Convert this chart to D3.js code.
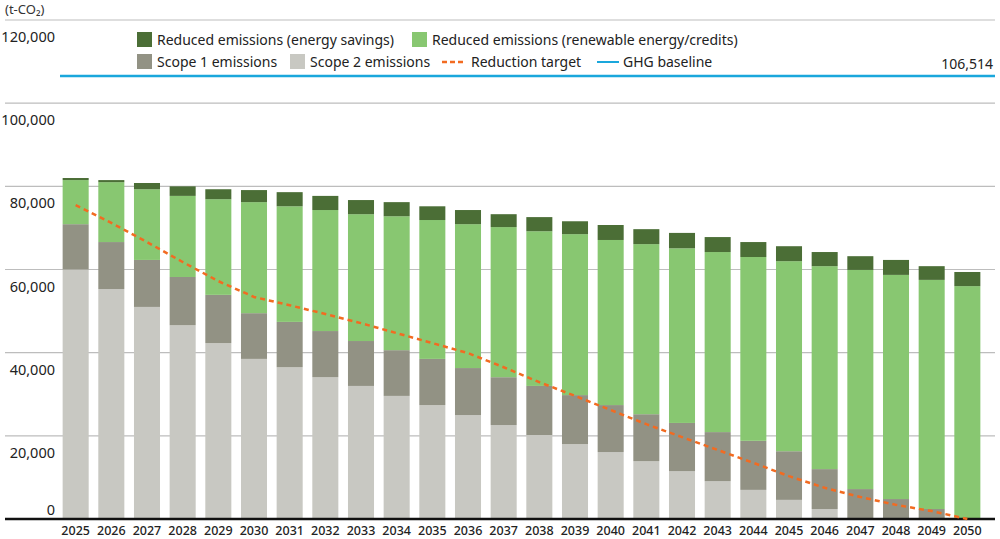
<!DOCTYPE html>
<html><head><meta charset="utf-8">
<script src="https://cdn.jsdelivr.net/npm/d3@7"></script>
<style>body{margin:0;background:#fff}text{font-family:"Noto Sans",sans-serif}</style>
</head><body><svg id="c" width="1000" height="539"></svg>
<script>
var years = d3.range(2025, 2051).map(String);
var scope2 = [60000,55300,51000,46600,42300,38500,36500,34100,32000,29600,27400,25000,22600,20200,18000,16100,13900,11500,9100,7000,4600,2400,0,0,0,0];
var scope1 = [10900,11300,11300,11600,11600,11000,10900,11100,10800,11000,11100,11300,11500,11800,11800,11300,11300,11600,11800,11800,11700,9600,7200,4800,2400,0];
var renewable = [10600,14400,17000,19500,23000,26700,27800,29100,30500,32200,33400,34600,36100,37200,38700,39700,40900,42000,43300,44200,45700,48800,52700,53900,55100,56000];
var savings = [500,500,1500,2300,2400,2900,3400,3400,3400,3400,3300,3400,3100,3400,3100,3600,3600,3700,3600,3600,3600,3400,3300,3600,3300,3400];
var target = [75500,71200,66600,61800,57200,53400,51400,49300,47100,44700,42300,39900,36500,32900,29600,26200,22800,19700,16600,13500,10300,7500,5300,3400,1900,0];
var baseline = 106514;
var yTicks = [0,20000,40000,60000,80000,100000,120000];

var svg = d3.select("#c");
var x = d3.scaleBand().domain(years).range([58, 985]).paddingInner(0.27).paddingOuter(0.13);
var y = d3.scaleLinear().domain([0, 120000]).range([519, 20]);

svg.selectAll(".g").data(yTicks).join("line")
  .attr("x1", 5).attr("x2", 995).attr("y1", d => y(d)).attr("y2", d => y(d))
  .attr("stroke", "#bdbdbd").attr("stroke-width", 1.2);
svg.selectAll(".yl").data(yTicks).join("text")
  .attr("x", 55).attr("y", d => d === 0 ? y(d) - 4 : y(d) + 22).attr("text-anchor", "end")
  .attr("font-size", 14.5).attr("fill", "#222").text(d => d3.format(",")(d));
svg.append("text").attr("x", 5).attr("y", 14).attr("font-size", 13).attr("fill", "#333").text("(t-CO₂)");

var keys = ["scope2","scope1","renewable","savings"];
var colors = {scope2:"#c8c8c2", scope1:"#929284", renewable:"#88c771", savings:"#4b6e36"};
var rows = years.map((yr, i) => ({year: yr, scope2: scope2[i], scope1: scope1[i], renewable: renewable[i], savings: savings[i]}));
var stack = d3.stack().keys(keys)(rows);
svg.selectAll(".s").data(stack).join("g").attr("fill", d => colors[d.key])
  .selectAll("rect").data(d => d).join("rect")
  .attr("x", d => x(d.data.year)).attr("width", x.bandwidth())
  .attr("y", d => y(d[1])).attr("height", d => y(d[0]) - y(d[1]));

svg.append("line").attr("x1", 5).attr("x2", 995).attr("y1", y(0)).attr("y2", y(0))
  .attr("stroke", "#111").attr("stroke-width", 2.5);

svg.append("line").attr("x1", 60).attr("x2", 995).attr("y1", y(baseline)).attr("y2", y(baseline))
  .attr("stroke", "#1aa7dc").attr("stroke-width", 2.5);
svg.append("text").attr("x", 993).attr("y", y(baseline) - 7).attr("text-anchor", "end")
  .attr("font-size", 14).attr("fill", "#222").text(d3.format(",")(baseline));

var line = d3.line().x((d, i) => x(years[i]) + x.bandwidth() / 2).y(d => y(d));
svg.append("path").datum(target).attr("d", line).attr("fill", "none")
  .attr("stroke", "#f26b21").attr("stroke-width", 2.5).attr("stroke-dasharray", "5,4");

svg.selectAll(".xl").data(years).join("text")
  .attr("x", d => x(d) + x.bandwidth() / 2).attr("y", 535).attr("text-anchor", "middle")
  .attr("font-size", 12.5).attr("font-weight", 500).attr("fill", "#222").text(d => d);

var legend = [
  {t:"Reduced emissions (energy savings)", c:colors.savings, x:137, y:40},
  {t:"Reduced emissions (renewable energy/credits)", c:colors.renewable, x:412, y:40},
  {t:"Scope 1 emissions", c:colors.scope1, x:137, y:62},
  {t:"Scope 2 emissions", c:colors.scope2, x:290, y:62},
  {t:"Reduction target", c:"#f26b21", x:442, y:62, dash:true},
  {t:"GHG baseline", c:"#1aa7dc", x:597, y:62, ln:true}
];
legend.forEach(l => {
  if (l.dash) svg.append("line").attr("x1", l.x).attr("x2", l.x + 24).attr("y1", l.y).attr("y2", l.y)
    .attr("stroke", l.c).attr("stroke-width", 2.5).attr("stroke-dasharray", "5,3");
  else if (l.ln) svg.append("line").attr("x1", l.x).attr("x2", l.x + 22).attr("y1", l.y).attr("y2", l.y)
    .attr("stroke", l.c).attr("stroke-width", 2);
  else svg.append("rect").attr("x", l.x).attr("y", l.y - 8).attr("width", 15).attr("height", 15).attr("fill", l.c);
  svg.append("text").attr("x", l.x + (l.dash ? 29 : l.ln ? 26 : 20)).attr("y", l.y + 5)
    .attr("font-size", 14).attr("fill", "#222").text(l.t);
});
</script></body></html>
